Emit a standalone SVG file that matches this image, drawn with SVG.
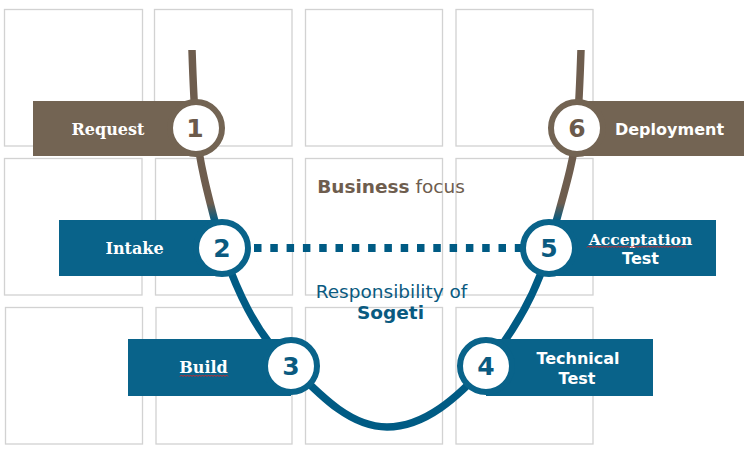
<svg xmlns="http://www.w3.org/2000/svg" width="749" height="451" viewBox="0 0 749 451">
<style>
.cell{fill:#fff;stroke:#d2d2d2;stroke-width:1.3}
.bbox{fill:#736453}
.ubox{fill:#09638A}
.bring{fill:#fff;stroke:#736453;stroke-width:6}
.uring{fill:#fff;stroke:#09638A;stroke-width:6}
.num{font-family:"DejaVu Sans",Verdana,sans-serif;font-weight:bold;font-size:25px;text-anchor:middle}
.bn{fill:#6B5A4B}
.un{fill:#0A5A80}
.lbl{font-family:"DejaVu Sans",Verdana,sans-serif;font-weight:bold;font-size:16px;fill:#fff;text-anchor:middle}
.slbl{font-family:"DejaVu Serif","Liberation Serif",serif;font-weight:bold;font-size:16px;fill:#fff;text-anchor:middle}
.cap{font-family:"DejaVu Sans",Verdana,sans-serif;font-size:18.5px;text-anchor:middle}
.sq{fill:none;stroke:#d62828;stroke-width:1}
</style>
<defs>
<linearGradient id="lg" gradientUnits="userSpaceOnUse" x1="0" y1="0" x2="0" y2="451">
<stop offset="0.45" stop-color="#6E5D4E"/>
<stop offset="0.49" stop-color="#005B84"/>
</linearGradient>
</defs>
<g id="grid">
<rect class="cell" x="4.5" y="9.5" width="138" height="136.5"/>
<rect class="cell" x="154.5" y="9.5" width="137.5" height="136.5"/>
<rect class="cell" x="305.5" y="9.5" width="137" height="136.5"/>
<rect class="cell" x="456" y="9.5" width="137" height="136.5"/>
<rect class="cell" x="4.5" y="158.5" width="137.5" height="136.5"/>
<rect class="cell" x="155.5" y="158.5" width="137" height="136.5"/>
<rect class="cell" x="305.5" y="158.5" width="137" height="136.5"/>
<rect class="cell" x="456" y="158.5" width="137" height="136.5"/>
<rect class="cell" x="5.5" y="307.5" width="137" height="136.5"/>
<rect class="cell" x="156" y="307.5" width="136" height="136.5"/>
<rect class="cell" x="305.5" y="307.5" width="137" height="136.5"/>
<rect class="cell" x="456" y="307.5" width="137" height="136.5"/>
</g>
<g id="connectors">
<path d="M192,50 C193,80 194,105 196,128 C199,165 212,210 222,248 C235,285 255,335 291,366 C320,395 350,427 387,427 C425,427 458,397 486,366 C515,330 538,290 549,248 C560,205 574,165 577,128 C579,105 580,80 581,50" fill="none" stroke="url(#lg)" stroke-width="7.5"/>
<line x1="254" y1="248" x2="522" y2="248" stroke="#005B84" stroke-width="8" stroke-dasharray="7.5 8.8"/>
</g>
<g id="n1">
<rect class="bbox" x="33" y="101" width="163" height="55"/>
<text class="slbl" x="108" y="135">Request</text>
<circle class="bring" cx="196" cy="128" r="26"/>
<text class="num bn" x="195" y="137">1</text>
</g>
<g id="n6">
<rect class="bbox" x="577" y="101" width="167" height="55"/>
<text class="lbl" x="669.5" y="135">Deployment</text>
<circle class="bring" cx="577" cy="128" r="26"/>
<text class="num bn" x="577" y="137">6</text>
</g>
<g id="n2">
<rect class="ubox" x="59" y="220" width="163" height="56"/>
<text class="slbl" x="134.5" y="254">Intake</text>
<circle class="uring" cx="222" cy="248" r="26"/>
<text class="num un" x="222" y="257">2</text>
</g>
<g id="n5">
<rect class="ubox" x="549" y="220" width="167" height="56"/>
<text class="slbl" x="640.5" y="245" style="font-size:15.5px">Acceptation</text>
<path class="sq" d="M587,247.5 l1.5,-1.5 l1.5,1.5 l1.5,-1.5 l1.5,1.5 l1.5,-1.5 l1.5,1.5 l1.5,-1.5 l1.5,1.5 l1.5,-1.5 l1.5,1.5 l1.5,-1.5 l1.5,1.5 l1.5,-1.5 l1.5,1.5 l1.5,-1.5 l1.5,1.5 l1.5,-1.5 l1.5,1.5 l1.5,-1.5 l1.5,1.5 l1.5,-1.5 l1.5,1.5 l1.5,-1.5 l1.5,1.5 l1.5,-1.5 l1.5,1.5 l1.5,-1.5 l1.5,1.5 l1.5,-1.5 l1.5,1.5 l1.5,-1.5 l1.5,1.5 l1.5,-1.5 l1.5,1.5 l1.5,-1.5 l1.5,1.5 l1.5,-1.5 l1.5,1.5 l1.5,-1.5 l1.5,1.5 l1.5,-1.5 l1.5,1.5 l1.5,-1.5 l1.5,1.5 l1.5,-1.5 l1.5,1.5 l1.5,-1.5 l1.5,1.5 l1.5,-1.5 l1.5,1.5 l1.5,-1.5 l1.5,1.5 l1.5,-1.5 l1.5,1.5 l1.5,-1.5 l1.5,1.5 l1.5,-1.5 l1.5,1.5 l1.5,-1.5 l1.5,1.5 l1.5,-1.5 l1.5,1.5 l1.5,-1.5 l1.5,1.5 l1.5,-1.5 l1.5,1.5"/>
<text class="lbl" x="640.5" y="264">Test</text>
<circle class="uring" cx="549" cy="248" r="26"/>
<text class="num un" x="549" y="257">5</text>
</g>
<g id="n3">
<rect class="ubox" x="128" y="339" width="163" height="57"/>
<text class="slbl" x="203.5" y="373">Build</text>
<path class="sq" d="M180,376.5 l1.5,-1.5 l1.5,1.5 l1.5,-1.5 l1.5,1.5 l1.5,-1.5 l1.5,1.5 l1.5,-1.5 l1.5,1.5 l1.5,-1.5 l1.5,1.5 l1.5,-1.5 l1.5,1.5 l1.5,-1.5 l1.5,1.5 l1.5,-1.5 l1.5,1.5 l1.5,-1.5 l1.5,1.5 l1.5,-1.5 l1.5,1.5 l1.5,-1.5 l1.5,1.5 l1.5,-1.5 l1.5,1.5 l1.5,-1.5 l1.5,1.5 l1.5,-1.5 l1.5,1.5 l1.5,-1.5 l1.5,1.5 l1.5,-1.5 l1.5,1.5"/>
<circle class="uring" cx="291" cy="366" r="26"/>
<text class="num un" x="291" y="375">3</text>
</g>
<g id="n4">
<rect class="ubox" x="486" y="339" width="167" height="57"/>
<text class="lbl" x="578" y="364">Technical</text>
<text class="lbl" x="577" y="384">Test</text>
<circle class="uring" cx="486" cy="366" r="26"/>
<text class="num un" x="486" y="375">4</text>
</g>
<g id="captions">
<text class="cap" x="391" y="193" fill="#6E5D4E"><tspan font-weight="bold">Business</tspan> focus</text>
<text class="cap" x="391.5" y="298" fill="#0A5A80">Responsibility of</text>
<text class="cap" x="390.5" y="319" fill="#0A5A80" font-weight="bold">Sogeti</text>
</g>
</svg>
